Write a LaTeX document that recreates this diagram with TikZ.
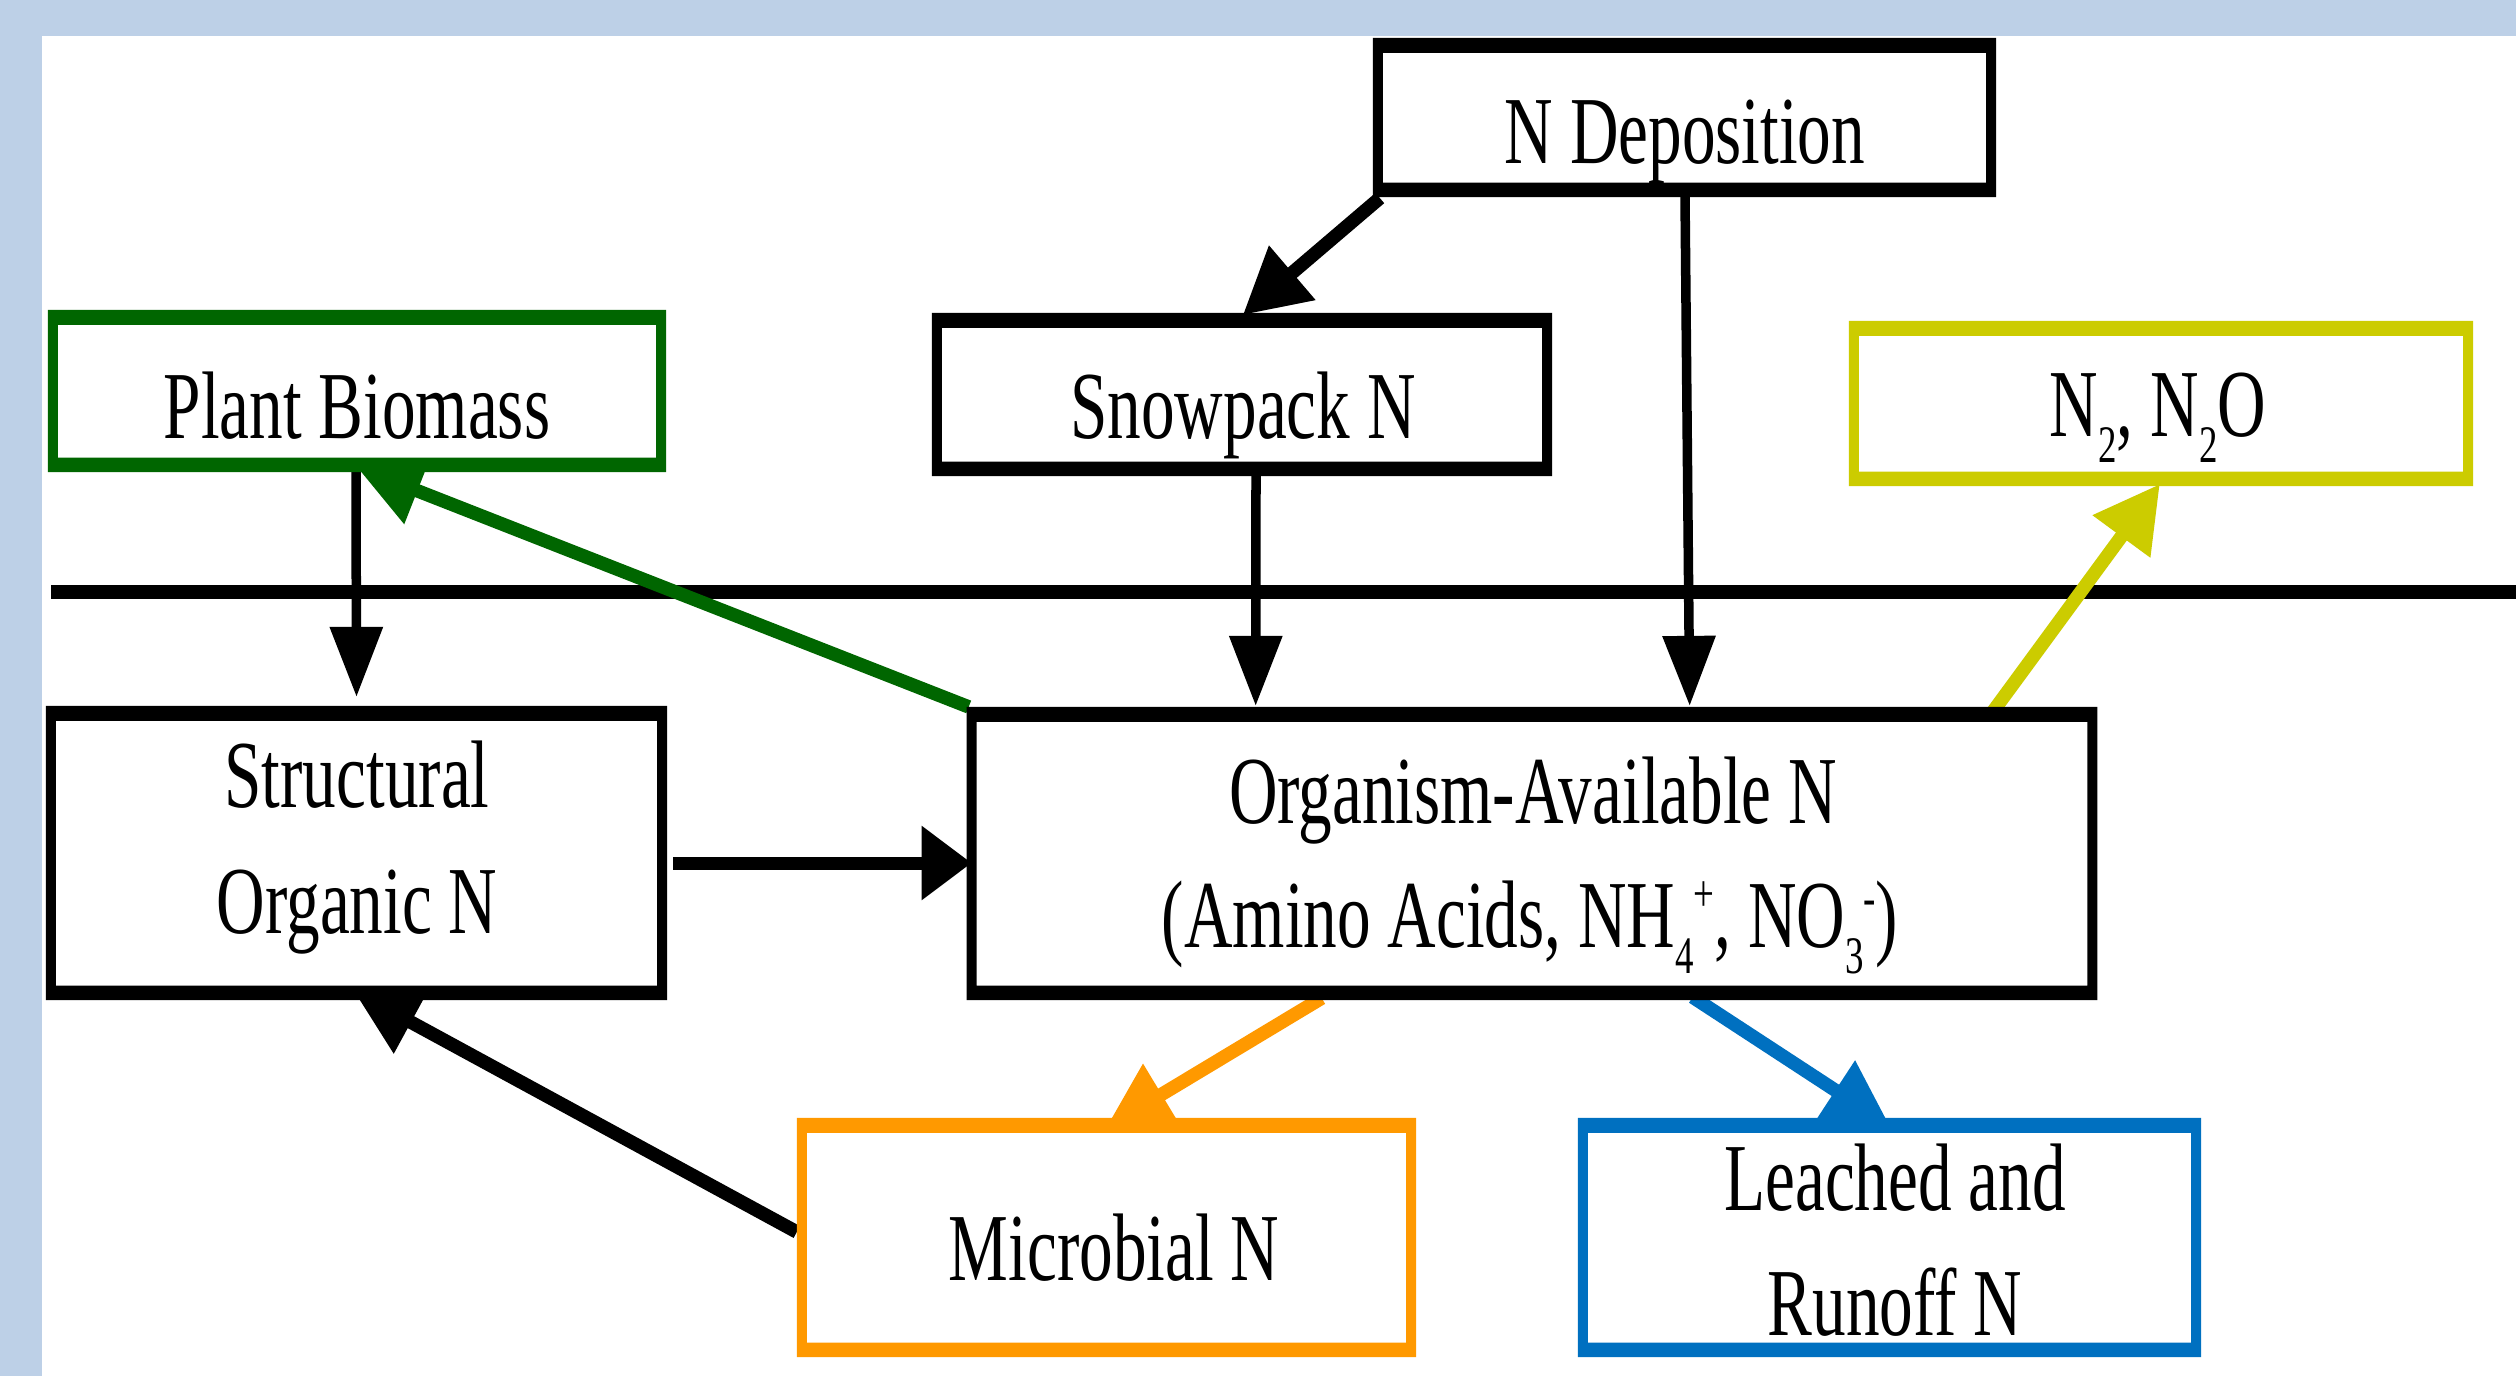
\documentclass[tikz,border=0pt]{standalone}
\usepackage{fontspec}
\setmainfont[FakeStretch=0.70]{Liberation Serif}
\usetikzlibrary{arrows.meta}
\definecolor{bgblue}{HTML}{BDD0E7}
\definecolor{pgreen}{HTML}{006600}
\definecolor{nyellow}{HTML}{CCCC00}
\definecolor{morange}{HTML}{FF9900}
\definecolor{lblue}{HTML}{0070C0}
\pgfdeclarelayer{back}
\pgfdeclarelayer{conn}
\pgfsetlayers{back,conn,main}
\newcommand{\mysbs}[1]{\raisebox{-7.5pt}{\fontsize{15}{15}\selectfont #1}}
\newcommand{\mysps}[2]{\raisebox{#1}{\fontsize{15}{15}\selectfont #2}}
\newcommand{\myfrm}[2]{\fill[#2, even odd rule] (#1.north west) rectangle (#1.south east) ([xshift=0.1cm,yshift=-0.15cm]#1.north west) rectangle ([xshift=-0.1cm,yshift=0.145cm]#1.south east);}
\begin{document}
\begin{tikzpicture}[x=0.01cm,y=-0.01cm,
  box/.style={rectangle,draw=none,fill=white,inner sep=0pt,outer sep=0pt},
  lbl/.style={anchor=base,inner sep=0pt,outer sep=0pt,font=\fontsize{27.3}{30}\selectfont},
  vert/.style={line width=0.095cm,-{Triangle[length=0.70cm,width=0.51cm]}},
  horiz/.style={line width=0.13cm,-{Triangle[length=0.50cm,width=0.71cm]}},
  diag/.style={line width=0.135cm,-{Triangle[length=0.65cm,width=0.68cm]}}]
\useasboundingbox (0,0) rectangle (2516,1376);
\begin{pgfonlayer}{back}
\fill[bgblue] (0,0) rectangle (2516,1376);
\fill[white] (42,36) rectangle (2516,1376);
\end{pgfonlayer}

% boxes
\node[box,minimum width=6.23cm,minimum height=1.59cm] (ndep) at (1684.5,117.5) {};
\node[box,minimum width=6.20cm,minimum height=1.63cm] (snow) at (1242,394.5) {};
\node[box,minimum width=6.18cm,minimum height=1.62cm] (plant) at (357,391) {};
\node[box,minimum width=6.24cm,minimum height=1.65cm] (n2) at (2161,403.5) {};
\node[box,minimum width=6.21cm,minimum height=2.94cm] (struct) at (356.5,853) {};
\node[box,minimum width=11.30cm,minimum height=2.93cm] (org) at (1532,853.5) {};
\node[box,minimum width=6.19cm,minimum height=2.39cm] (micro) at (1106.5,1237.5) {};
\node[box,minimum width=6.23cm,minimum height=2.39cm] (leach) at (1889.5,1237.5) {};

\myfrm{ndep}{black}
\myfrm{snow}{black}
\myfrm{plant}{pgreen}
\myfrm{n2}{nyellow}
\myfrm{struct}{black}
\myfrm{org}{black}
\myfrm{micro}{morange}
\myfrm{leach}{lblue}

% labels
\node[lbl] (ndepT) at (1685,163) {N Deposition};
\node[lbl] (snowT) at (1243,438) {Snowpack N};
\node[lbl] (plantT) at (357,438) {Plant Biomass};
\node[lbl] (n2T) at (2158,436) {N\mysbs{2}, N\mysbs{2}O};
\node[lbl] (structT1) at (357,807) {Structural};
\node[lbl] (structT2) at (357,933) {Organic N};
\node[lbl] (orgT1) at (1533,823) {Organism-Available N};
\node[lbl] (orgT2) at (1530,947) {(Amino Acids, NH\mysbs{4}\mysps{10pt}{+}, NO\mysbs{3}\mysps{9pt}{-})};
\node[lbl] (microT) at (1114,1280) {Microbial N};
\node[lbl] (leachT1) at (1895,1210) {Leached and};
\node[lbl] (leachT2) at (1895,1335) {Runoff N};

% short stub inside N Deposition box
\draw[line width=0.045cm] ([shift={(-28.5,45.5)}]ndep.center) -- ([shift={(-28.5,66.5)}]ndep.center);

\begin{pgfonlayer}{conn}
\coordinate (divL) at (51,592);
\coordinate (divR) at (2516,592);
\draw[line width=0.135cm] (divL) -- (divR);
\draw[diag] ([shift={(7,1)}]ndep.south west) -- ([shift={(311,2)}]snow.north west);
\draw[vert] ([shift={(0.5,0)}]ndep.south) -- ([shift={(723,-1)}]org.north west);
\draw[vert] ([shift={(14,0)}]snow.south) -- ([shift={(289,-1)}]org.north west);
\draw[vert] ([shift={(-1,-7)}]plant.south) -- ([shift={(0,-9)}]struct.north);
\draw[diag,pgreen] ([shift={(2,0)}]org.north west) -- ([shift={(309,-5)}]plant.south west);
\draw[diag,nyellow] ([shift={(1026,5)}]org.north west) -- ([shift={(311,-2)}]n2.south west);
\draw[horiz] ([shift={(6,10)}]struct.east) -- ([shift={(5,9.5)}]org.west);
\draw[diag,morange] ([shift={(355,-2)}]org.south west) -- ([shift={(309,10)}]micro.north west);
\draw[diag,lblue] ([shift={(726,-3)}]org.south west) -- ([shift={(312,8)}]leach.north west);
\draw[diag] ([shift={(0,-5.5)}]micro.west) -- ([shift={(308,-9)}]struct.south west);
\end{pgfonlayer}
\end{tikzpicture}
\end{document}
